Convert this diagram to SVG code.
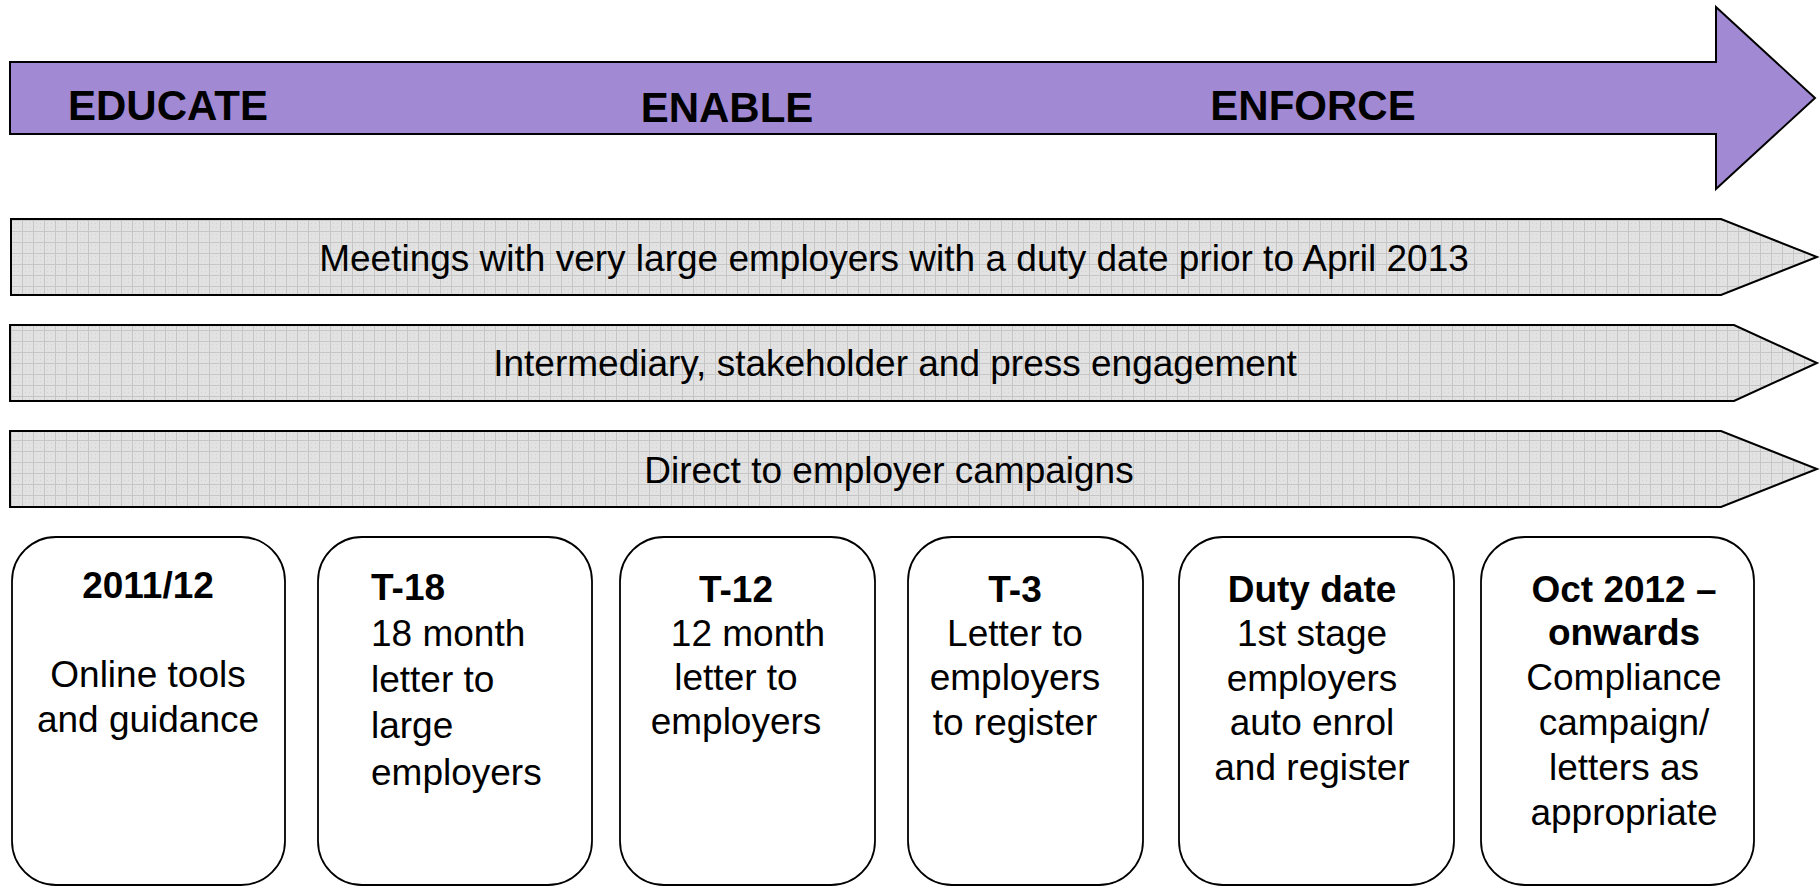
<svg xmlns="http://www.w3.org/2000/svg" width="1820" height="886" viewBox="0 0 1820 886">
<defs>
<pattern id="grid" width="11" height="11" patternUnits="userSpaceOnUse">
<rect width="11" height="11" fill="#e2e2e2"/>
<path d="M0,0.5H11M0.5,0V11" stroke="#c6c6c6" stroke-width="1" fill="none"/>
<path d="M3,3h1v1h-1zM7,7h1v1h-1zM3,7h1v1h-1zM7,3h1v1h-1z" fill="#d2d2d2"/>
</pattern>
</defs>
<style>
.bar{fill:url(#grid);stroke:#000;stroke-width:2}
.main{fill:#a189d4;stroke:#000;stroke-width:2}
.box{fill:#fff;stroke:#000;stroke-width:1.8}
text{font-family:"Liberation Sans",Arial,Helvetica,sans-serif;fill:#000}
.big{font-size:42px;font-weight:bold}
.t{font-size:37px;text-anchor:middle}
.b{font-weight:bold}
.l{text-anchor:start}
</style>
<g id="phase-arrow">
<path class="main" d="M10,62 H1716 V7 L1815,98 L1716,189 V134 H10 Z"/>
<text class="big" x="68" y="120">EDUCATE</text>
<text class="big" x="727" y="122" text-anchor="middle">ENABLE</text>
<text class="big" x="1313" y="120" text-anchor="middle">ENFORCE</text>
</g>
<g id="meetings">
<path class="bar" d="M11,219 H1721 L1817,257 L1721,295 H11 Z"/>
<text class="t" x="894" y="271">Meetings with very large employers with a duty date prior to April 2013</text>
</g>
<g id="intermediary">
<path class="bar" d="M10,325 H1734 L1817,363 L1734,401 H10 Z"/>
<text class="t" x="895" y="376">Intermediary, stakeholder and press engagement</text>
</g>
<g id="direct">
<path class="bar" d="M10,431 H1721 L1817,469 L1721,507 H10 Z"/>
<text class="t" x="889" y="483">Direct to employer campaigns</text>
</g>
<g id="box-2011">
<rect class="box" x="12" y="537" width="273" height="348" rx="44" ry="44"/>
<text class="t b" x="148" y="598">2011/12</text>
<text class="t" x="148" y="687">Online tools</text>
<text class="t" x="148" y="732">and guidance</text>
</g>
<g id="box-t18">
<rect class="box" x="318" y="537" width="274" height="348" rx="44" ry="44"/>
<text class="t l b" x="371" y="600">T-18</text>
<text class="t l" x="371" y="646">18 month</text>
<text class="t l" x="371" y="692">letter to</text>
<text class="t l" x="371" y="738">large</text>
<text class="t l" x="371" y="785">employers</text>
</g>
<g id="box-t12">
<rect class="box" x="620" y="537" width="255" height="348" rx="44" ry="44"/>
<text class="t b" x="736" y="602">T-12</text>
<text class="t" x="748" y="646">12 month</text>
<text class="t" x="736" y="690">letter to</text>
<text class="t" x="736" y="734">employers</text>
</g>
<g id="box-t3">
<rect class="box" x="908" y="537" width="235" height="348" rx="44" ry="44"/>
<text class="t b" x="1015" y="602">T-3</text>
<text class="t" x="1015" y="646">Letter to</text>
<text class="t" x="1015" y="690">employers</text>
<text class="t" x="1015" y="735">to register</text>
</g>
<g id="box-duty">
<rect class="box" x="1179" y="537" width="275" height="348" rx="44" ry="44"/>
<text class="t b" x="1312" y="602">Duty date</text>
<text class="t" x="1312" y="646">1st stage</text>
<text class="t" x="1312" y="691">employers</text>
<text class="t" x="1312" y="735">auto enrol</text>
<text class="t" x="1312" y="780">and register</text>
</g>
<g id="box-oct">
<rect class="box" x="1481" y="537" width="273" height="348" rx="44" ry="44"/>
<text class="t b" x="1624" y="602">Oct 2012 –</text>
<text class="t b" x="1624" y="645">onwards</text>
<text class="t" x="1624" y="690">Compliance</text>
<text class="t" x="1624" y="735">campaign/</text>
<text class="t" x="1624" y="780">letters as</text>
<text class="t" x="1624" y="825">appropriate</text>
</g>
<g id="connectors"></g>
</svg>
